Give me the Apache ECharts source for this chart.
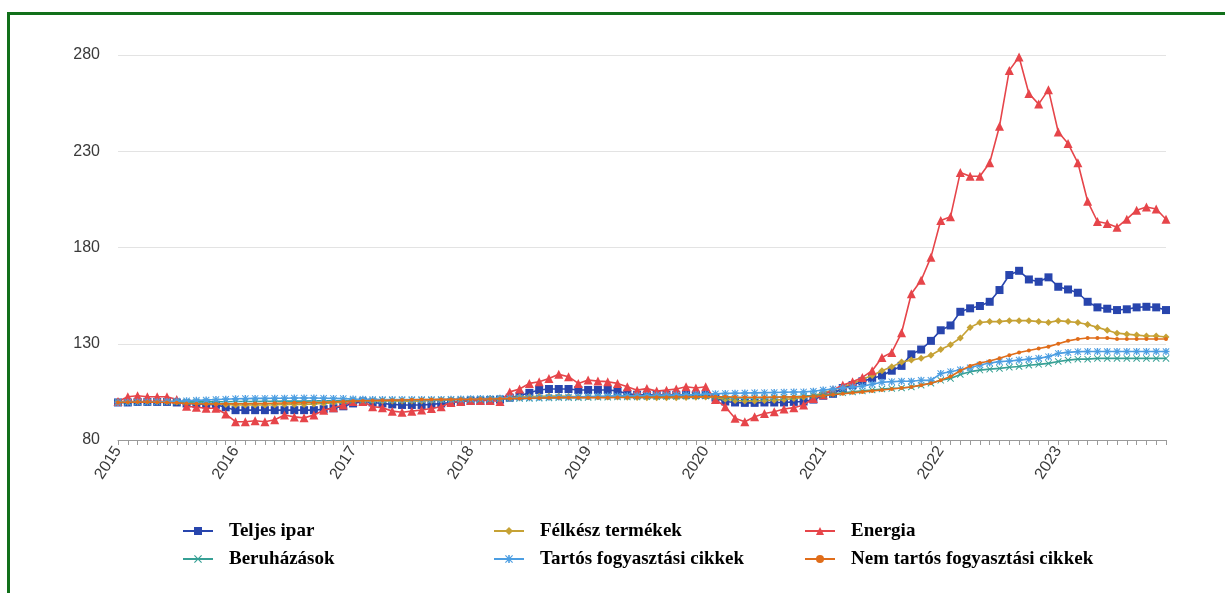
<!DOCTYPE html>
<html>
<head>
<meta charset="utf-8">
<script src="https://cdn.jsdelivr.net/npm/echarts@6/dist/echarts.min.js"></script>
<style>
  html, body { margin: 0; padding: 0; background: #fff; overflow: hidden; }
  #graph { position: absolute; left: 0; top: 0; width: 1225px; height: 593px; }
  #frame { position: absolute; left: 7px; top: 12px; width: 1240px; height: 620px;
           border-left: 3px solid #11701a; border-top: 3px solid #11701a; pointer-events: none; }
</style>
</head>
<body>
<div id="graph"></div>
<div id="frame"></div>
<script>
var years = ['2015', '2016', '2017', '2018', '2019', '2020', '2021', '2022', '2023'];
var months = ['01', '02', '03', '04', '05', '06', '07', '08', '09', '10', '11', '12'];
var yTicks = [80, 130, 180, 230, 280];

var teljesIpar = [
    99.5, 99.5, 99.8, 99.8, 99.8, 99.8, 99.5, 99, 98.8, 98.5, 98.3, 97,
    95.5, 95.5, 95.5, 95.5, 95.5, 95.5, 95.5, 95.5, 95.5, 96, 96.5, 97.5,
    99, 100, 99.5, 99, 98.5, 98.2, 98.2, 98.2, 98.5, 99, 99.5, 100,
    100.5, 100.5, 100.8, 101, 102, 103, 104.5, 106, 106.5, 106.5, 106.5, 106,
    106, 106, 106, 105.5, 104, 103.5, 103.5, 103.5, 103.5, 103.5, 103.5, 103.5,
    103.5, 102, 100, 99.5, 99.3, 99.3, 99.5, 99.5, 99.5, 99.8, 100, 101,
    103, 104, 107, 108.5, 110.5, 112, 113.5, 116, 118.5, 124.5, 127, 131.5,
    137, 139.5, 146.6, 148.4, 149.6, 151.8, 157.9, 165.7, 167.9, 163.4, 162.2, 164.5,
    159.6, 158.2, 156.5, 151.8, 148.9, 148.2, 147.5, 147.9, 148.9, 149.2, 148.9, 147.5
];
var felkesz = [
    100, 100, 100, 100, 100, 100, 99.8, 99.5, 99.2, 99, 98.8, 98.5,
    98.2, 98.2, 98.2, 98.2, 98.3, 98.5, 98.5, 98.5, 98.7, 99, 99.3, 99.6,
    100, 100.3, 100.3, 100.3, 100.3, 100.2, 100.2, 100.3, 100.5, 100.7, 100.9, 101,
    101.2, 101.3, 101.5, 101.7, 102, 102.3, 102.5, 102.7, 102.8, 102.8, 102.7, 102.5,
    102.5, 102.5, 102.4, 102.3, 102.2, 102.1, 102, 102, 102, 102, 102.1, 102.2,
    102.3, 102, 101.2, 100.5, 100.3, 100.3, 100.5, 100.7, 101, 101.5, 102.2, 103,
    104.5, 106, 107.7, 109.4, 111.5, 113.5, 116, 118, 120.5, 121.5, 122.5, 124,
    127, 129.5, 133, 138.5, 141, 141.5, 141.5, 142, 142, 142, 141.5, 141,
    142, 141.5, 141, 140, 138.5, 137, 135.5, 135, 134.5, 134, 134, 133.5
];
var energia = [
    100, 102.5, 103, 102.5, 102.5, 102.5, 101, 97.5, 97, 96.5, 96.5, 93.5,
    89.5, 89.5, 90, 89.5, 90.5, 93, 92, 91.5, 93, 95.5, 96.8, 98.2,
    100, 100, 97.3, 96.8, 95, 94.4, 95, 95.6, 96.4, 97.3, 99.5, 100,
    100.5, 100.5, 100.5, 100, 105, 106.5, 109.4, 110.3, 112, 114.1, 112.9, 109.4,
    111.2, 110.6, 110.3, 109.4, 107.7, 105.9, 106.7, 105.4, 105.9, 106.5, 107.7, 107,
    107.7, 101, 97.3, 91.3, 89.5, 92.1, 93.8, 94.7, 96.1, 96.8, 98.2, 101.6,
    103.5, 106, 108.6, 110.3, 112.5, 116, 122.9, 125.5, 135.7, 156, 163, 175,
    194, 196, 219, 217, 217, 224, 243, 272, 279, 260, 254.5, 262,
    240, 234, 224, 204, 193.5, 192.5, 190.5, 194.7, 199.4, 201, 200, 194.7
];
var beruhazasok = [
    99.5, 99.5, 99.6, 99.6, 99.7, 99.7, 99.7, 99.8, 99.8, 99.8, 99.9, 99.9,
    100, 100, 100, 100.1, 100.1, 100.2, 100.2, 100.2, 100.3, 100.3, 100.4, 100.4,
    100.5, 100.5, 100.5, 100.6, 100.6, 100.7, 100.7, 100.8, 100.8, 100.9, 100.9, 101,
    101, 101.1, 101.2, 101.3, 101.4, 101.5, 101.6, 101.7, 101.8, 101.9, 102, 102,
    102.1, 102.2, 102.2, 102.3, 102.4, 102.4, 102.5, 102.5, 102.6, 102.6, 102.7, 102.7,
    102.8, 102.5, 102, 101.8, 101.8, 101.9, 102, 102.1, 102.3, 102.5, 102.8, 103.1,
    103.5, 104, 104.5, 105, 105.5, 106, 106.5, 106.8, 107, 107.5, 108.5, 109.5,
    111, 112, 114, 115.5, 116.3, 116.8, 117.2, 117.8, 118.2, 118.8, 119.3, 119.8,
    120.8, 121.5, 122, 122, 122.4, 122.4, 122.4, 122.4, 122.4, 122.4, 122.4, 122.4
];
var tartos = [
    99.5, 99.6, 99.7, 99.8, 99.9, 100, 100.2, 100.4, 100.6, 100.8, 101, 101.2,
    101.4, 101.5, 101.6, 101.6, 101.7, 101.7, 101.8, 101.8, 101.8, 101.7, 101.6, 101.5,
    101.3, 101.2, 101.1, 101, 101, 101, 101, 101, 101, 101.1, 101.2, 101.3,
    101.4, 101.5, 101.6, 101.7, 101.8, 101.9, 102, 102.1, 102.2, 102.3, 102.4, 102.5,
    102.6, 102.7, 102.8, 102.9, 103, 103, 103.1, 103.2, 103.3, 103.4, 103.5, 103.6,
    103.8, 104, 104.2, 104.3, 104.4, 104.5, 104.6, 104.7, 104.8, 104.9, 105, 105.3,
    106, 106.5, 107, 107.5, 108, 109, 110, 110.3, 110.5, 110.5, 111, 111,
    114.5, 115.5, 116.5, 117.5, 119, 120, 120.7, 121, 121.5, 122, 122.5, 123.3,
    125, 125.5, 125.9, 126, 126, 126, 126, 126, 126, 126, 126, 126
];
var nemTartos = [
    99.5, 99.6, 99.7, 99.7, 99.6, 99.5, 99.3, 99, 98.8, 98.7, 98.7, 98.8,
    98.8, 98.8, 98.9, 99, 99.1, 99.2, 99.3, 99.4, 99.5, 99.6, 99.8, 100,
    100.2, 100.4, 100.5, 100.6, 100.7, 100.8, 100.9, 101, 101, 101.1, 101.1, 101.2,
    101.2, 101.3, 101.3, 101.4, 101.5, 101.6, 101.7, 101.8, 101.9, 102, 102, 102,
    102, 102, 102, 102.1, 102.1, 102.1, 102.2, 102.2, 102.2, 102.3, 102.3, 102.4,
    102.5, 102.5, 102.5, 102.3, 102.2, 102.2, 102.2, 102.3, 102.3, 102.4, 102.5, 102.7,
    103, 103.5, 104, 104.5, 105, 105.5, 106, 106.5, 107, 107.5, 108.5, 109.5,
    111, 113, 116, 118.5, 120, 121, 122.5, 124, 125.5, 126.5, 127.5, 128.5,
    130, 131.5, 132.5, 133, 133, 133, 132.5, 132.5, 132.5, 132.5, 132.5, 132.5
];

var categories = [];
years.forEach(function (y) {
    months.forEach(function (m) { categories.push(y + '-' + m); });
});

// marker shapes
var crossPath = 'path://M1,0 L10,9 L9,10 L0,1 Z M9,0 L10,1 L1,10 L0,9 Z';
var starPath = 'path://M0,4 L10,4 L10,6 L0,6 Z M4,0 L6,0 L6,10 L4,10 Z M1,0 L10,9 L9,10 L0,1 Z M9,0 L10,1 L1,10 L0,9 Z';

function line(name, data, color, symbol, size, z) {
    return {
        name: name,
        type: 'line',
        data: data,
        z: z,
        symbol: symbol,
        symbolSize: size,
        showAllSymbol: true,
        lineStyle: { color: color, width: 1.6 },
        itemStyle: { color: color },
        emphasis: { disabled: true }
    };
}

var legendText = {
    fontFamily: 'Liberation Serif, Times New Roman, serif',
    fontWeight: 'bold',
    fontSize: 19,
    color: '#000',
    lineHeight: 20,
    padding: [0, 0, 0, 11]
};
function legendCol(left, names) {
    return {
        orient: 'vertical',
        left: left,
        top: 516,
        itemWidth: 30,
        itemHeight: 10,
        itemGap: 8,
        data: names,
        textStyle: legendText,
        selectedMode: false
    };
}

var chart = echarts.init(document.getElementById('graph'));
chart.setOption({
    animation: false,
    backgroundColor: 'transparent',
    grid: { left: 118, right: 59, top: 55, bottom: 153 },
    legend: [
        legendCol(177, ['Teljes ipar', 'Beruházások']),
        legendCol(488, ['Félkész termékek', 'Tartós fogyasztási cikkek']),
        legendCol(799, ['Energia', 'Nem tartós fogyasztási cikkek'])
    ],
    xAxis: {
        type: 'category',
        data: categories,
        boundaryGap: false,
        axisLine: { lineStyle: { color: '#9a9a9a', width: 1 } },
        axisTick: { interval: 0, length: 5, lineStyle: { color: '#9a9a9a' } },
        axisLabel: {
            interval: function (i) { return i % 12 === 0; },
            formatter: function (v) { return v.slice(0, 4); },
            rotate: 57,
            margin: 8,
            fontFamily: 'Liberation Sans, Arial, sans-serif',
            fontSize: 16,
            color: '#3a3a3a'
        },
        splitLine: { show: false }
    },
    yAxis: {
        type: 'value',
        min: yTicks[0],
        max: yTicks[yTicks.length - 1],
        interval: yTicks[1] - yTicks[0],
        axisLine: { show: false },
        axisTick: { show: false },
        axisLabel: {
            margin: 18,
            fontFamily: 'Liberation Sans, Arial, sans-serif',
            fontSize: 16,
            color: '#3a3a3a'
        },
        splitLine: { lineStyle: { color: '#e3e3e3', width: 1 } }
    },
    series: [
        line('Teljes ipar', teljesIpar, '#2845ad', 'rect', 8, 3),
        line('Félkész termékek', felkesz, '#c6a235', 'diamond', 7, 4),
        line('Energia', energia, '#e6454a', 'triangle', 9, 5),
        line('Beruházások', beruhazasok, '#36a095', crossPath, 7, 6),
        line('Tartós fogyasztási cikkek', tartos, '#4c9ee2', starPath, 7, 7),
        line('Nem tartós fogyasztási cikkek', nemTartos, '#e06d1a', 'circle', 4, 8)
    ]
});
</script>
</body>
</html>
